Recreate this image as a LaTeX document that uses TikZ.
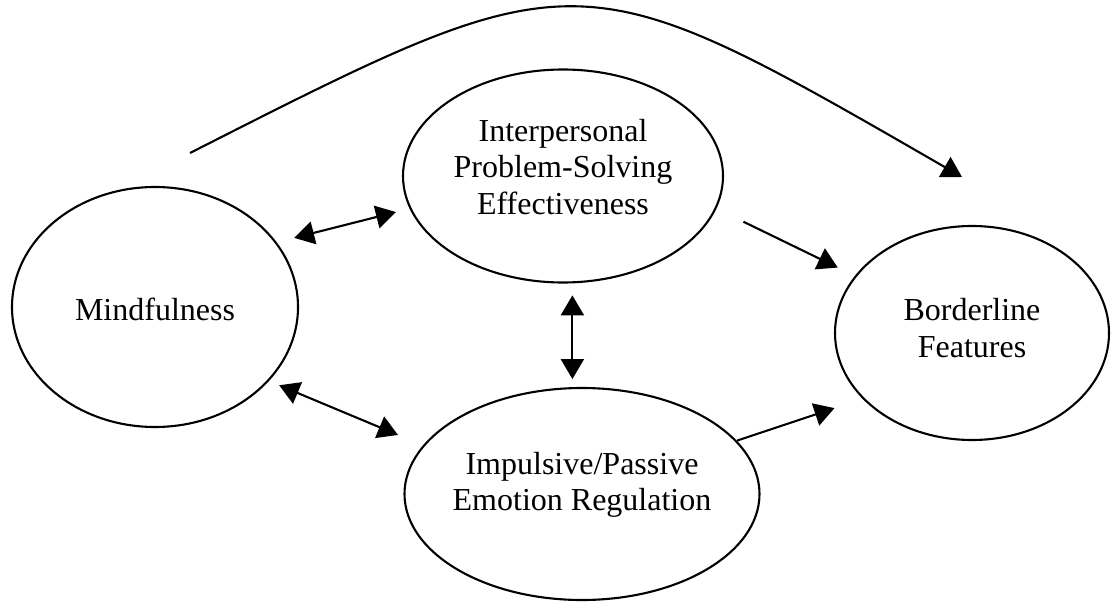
\documentclass[tikz,border=0pt]{standalone}
\usepackage{fontspec}
\setmainfont{Liberation Serif}
\usetikzlibrary{arrows.meta,shapes.geometric}

\begin{document}
\begin{tikzpicture}[
                x=1pt, y=-1pt,
                line width=2.1pt,
                construct/.style={draw, ellipse, inner sep=0pt},
                caption/.style={align=center, inner sep=0pt, font=\fontsize{32}{36.5}\selectfont},
                link/.style={-{Triangle[length=20pt,width=23pt]}},
                twoway/.style={{Triangle[length=20pt,width=23pt]}-{Triangle[length=20pt,width=23pt]}}
            ]
                \useasboundingbox (0,0) rectangle (1111,602);
                \node [construct, minimum width=286pt, minimum height=240pt] (mind) at (155,307) {};
                \node [construct, minimum width=320pt, minimum height=213pt] (inter) at (563,176) {};
                \node [construct, minimum width=355pt, minimum height=212pt] (regul) at (582,494) {};
                \node [construct, minimum width=274pt, minimum height=214pt] (border) at (972,333) {};
                \node [caption] (mindtext) at ([yshift=-2pt]mind.center) {Mindfulness};
                \node [caption] (intertext) at ([yshift=9pt]inter.center) {Interpersonal\\Problem-Solving\\Effectiveness};
                \node [caption] (regultext) at ([yshift=9pt]regul.center) {Impulsive/Passive\\Emotion Regulation};
                \node [caption] (bordertext) at ([yshift=5pt]border.center) {Borderline\\Features};
                \coordinate (arcstart) at (190,153);
                \coordinate (arcend) at (962,177);
                \draw [link] (arcstart) .. controls (580,-45) and (577,-45) .. (arcend);
                \draw [twoway, shorten <=18pt, shorten >=14pt] (mind.28.2) -- (inter.192.1);
                \draw [twoway, shorten <=11pt, shorten >=27pt] (mind.327) -- (regul.163.9);
                \draw [twoway, shorten <=12pt, shorten >=8pt] (inter.275.4) -- (inter.275.4 |- regul.94.9);
                \draw [link, shorten <=30pt, shorten >=19pt] (inter.348.4) -- (border.154.7);
                \draw [link, shorten >=29.5pt] (regul.19.4) -- (border.211.5);
            \end{tikzpicture}
\end{document}
